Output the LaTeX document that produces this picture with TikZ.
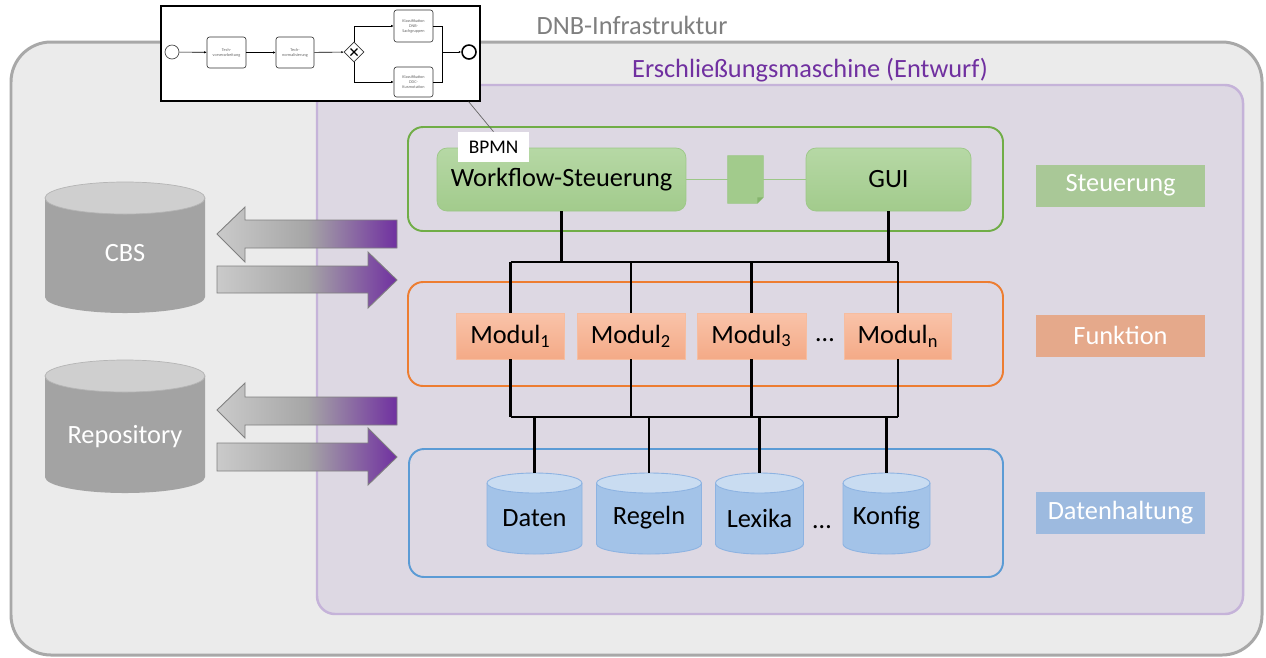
\documentclass[tikz,border=0pt]{standalone}
\usepackage{fontspec}
\setmainfont{Carlito}
\usetikzlibrary{arrows.meta,shapes.geometric}

\definecolor{infrafuell}{HTML}{EBEBEB}
\definecolor{infrarand}{HTML}{A8A8A8}
\definecolor{infratext}{HTML}{7F7F7F}
\definecolor{maschfuell}{HTML}{DDD8E3}
\definecolor{maschrand}{HTML}{C5B3D9}
\definecolor{lila}{HTML}{7030A0}
\definecolor{gruenrahmen}{HTML}{70AD47}
\definecolor{gruenoben}{HTML}{B6D8A5}
\definecolor{gruenunten}{HTML}{A2CB8C}
\definecolor{gruenrand}{HTML}{9CC787}
\definecolor{gruendunkel}{HTML}{86B56E}
\definecolor{orangerahmen}{HTML}{ED7D31}
\definecolor{orangeoben}{HTML}{F9C3A9}
\definecolor{orangeunten}{HTML}{F4AA87}
\definecolor{orangerand}{HTML}{F6BDA0}
\definecolor{blaurahmen}{HTML}{5B9BD5}
\definecolor{blaukoerper}{HTML}{A3C3E8}
\definecolor{blaudeckel}{HTML}{C9DCF1}
\definecolor{blaurand}{HTML}{8DB3E2}
\definecolor{graukoerper}{HTML}{A3A3A3}
\definecolor{graudeckel}{HTML}{CFCFCF}
\definecolor{graurand}{HTML}{B5B5B5}
\definecolor{pfeilhell}{HTML}{CACACA}
\definecolor{pfeilgrau}{HTML}{A6A6A6}
\definecolor{pfeilrand}{HTML}{808080}
\definecolor{ebenegruen}{HTML}{A9C897}
\definecolor{ebeneorange}{HTML}{E5A98B}
\definecolor{ebeneblau}{HTML}{9DBADF}

\newcommand\schriftgross{\fontsize{15}{18}\selectfont}

\tikzset{
  rahmen/.style={rounded corners=0.3cm, line width=1.1pt},
  gruenbox/.style={draw=gruenrand, top color=gruenoben, bottom color=gruenunten, rounded corners=0.2cm, minimum height=1.26cm, inner sep=0, font=\schriftgross},
  modulbox/.style={draw=orangerand, top color=orangeoben, bottom color=orangeunten, minimum height=0.92cm, inner sep=0, font=\schriftgross},
  ebene/.style={minimum width=3.38cm, minimum height=0.84cm, inner sep=0, text=white, font=\schriftgross},
  verbinder/.style={line width=1.2pt, black},
  task/.style={draw=black!80, rounded corners=0.05cm, line width=0.35pt, align=center, inner sep=0, text=black!60, font=\fontsize{2.4}{2.9}\selectfont},
  fluss/.style={line width=0.35pt, -{Latex[length=1.4pt,width=1.3pt]}},
  datenpfeil/.style={draw=pfeilrand, line width=0.5pt, left color=pfeilhell, right color=lila, middle color=pfeilgrau},
}

\begin{document}
\begin{tikzpicture}[x=0.02cm,y=-0.02cm]
\useasboundingbox (0,0) rectangle (1266,657);
\fill[white] (0,0) rectangle (1266,657);

% DNB-Infrastruktur
\draw[draw=infrarand, fill=infrafuell, line width=1.7pt, rounded corners=0.8cm] (11,42) rectangle (1262,655);
\node[text=infratext, font=\schriftgross] (infra) at (632,25) {DNB-Infrastruktur};

% Erschliessungsmaschine
\draw[draw=maschrand, fill=maschfuell, line width=1.4pt, rounded corners=0.36cm] (317,85) rectangle (1243,614);
\node[text=lila, font=\schriftgross] (masch) at (810,70) {Erschließungsmaschine (Entwurf)};

% Ebenen
\draw[rahmen, gruenrahmen] (408,127) rectangle (1003,231);
\draw[rahmen, orangerahmen] (408,282) rectangle (1003,386);
\draw[rahmen, blaurahmen] (409,449) rectangle (1003,577);

\node[ebene, fill=ebenegruen] (steuerung) at (1120.5,185.5) {Steuerung};
\node[ebene, fill=ebeneorange] (funktion) at (1120.5,335.5) {Funktion};
\node[ebene, fill=ebeneblau] (datenhaltung) at (1120.5,512.5) {Datenhaltung};

% Steuerung
\node[gruenbox, minimum width=4.98cm] (wf) at (561.5,179.5) {Workflow-Steuerung};
\node[gruenbox, minimum width=3.3cm] (gui) at (888.5,179.5) {GUI};
\node[minimum width=0.7cm, minimum height=0.94cm, inner sep=0] (dok) at (745.5,179.5) {};
\draw[gruenrand, line width=0.5pt] (wf.east) -- (dok.west);
\draw[gruenrand, line width=0.5pt] (dok.east) -- (gui.west);
\draw[gruenrand, fill=gruenunten] (dok.north west) -- (dok.north east) -- ([yshift=0.12cm]dok.south east) -- ([xshift=-0.12cm]dok.south east) -- (dok.south west) -- cycle;
\fill[gruendunkel] ([yshift=0.12cm]dok.south east) -- ([xshift=-0.12cm,yshift=0.12cm]dok.south east) -- ([xshift=-0.12cm]dok.south east) -- cycle;

% Module
\node[modulbox, minimum width=2.16cm] (m1) at (510.5,336) {Modul\textsubscript{1}};
\node[modulbox, minimum width=2.16cm] (m2) at (631,336) {Modul\textsubscript{2}};
\node[modulbox, minimum width=2.18cm] (m3) at (751.5,336) {Modul\textsubscript{3}};
\node[modulbox, minimum width=2.14cm] (mn) at (898,336) {Modul\textsubscript{n}};
\node[font=\schriftgross] (mdots) at (825,340) {\dots};

% Datenhaltung
\pgfmathsetmacro{\ry}{10}
\foreach \name/\cx/\rx/\txt in {daten/534.5/47.5/Daten, regeln/649/52.5/Regeln, lexika/759.5/44/Lexika, konfig/886.5/43.5/Konfig}{
  \fill[blaukoerper] (\cx-\rx,483) -- (\cx-\rx,544) arc[start angle=180, end angle=0, x radius=\rx, y radius=\ry] -- (\cx+\rx,483) -- cycle;
  \draw[blaurand, fill=blaudeckel, line width=0.5pt] (\cx,483) ellipse[x radius=\rx, y radius=\ry];
  \draw[blaurand, line width=0.5pt] (\cx-\rx,483) -- (\cx-\rx,544) arc[start angle=180, end angle=0, x radius=\rx, y radius=\ry] -- (\cx+\rx,483);
  \coordinate (\name-oben) at (\cx,473);
  \node[font=\schriftgross] (\name) at (\cx,518) {\txt};
}
\node[font=\schriftgross] (ddots) at (822,527) {\dots};

% Verbinder
\coordinate (busoben) at (0,262);
\coordinate (busunten) at (0,417);
\draw[verbinder] (wf.south) -- (wf.south |- busoben);
\draw[verbinder] (gui.south) -- (gui.south |- busoben);
\draw[verbinder] (m1.north |- busoben) -- (mn.north |- busoben);
\draw[verbinder] (m1.south |- busunten) -- (mn.south |- busunten);
\foreach \m in {m1,m2,m3,mn}{
  \draw[verbinder] (\m.north |- busoben) -- (\m.north);
  \draw[verbinder] (\m.south) -- (\m.south |- busunten);
}
\foreach \d in {daten,regeln,lexika,konfig}
  \draw[verbinder] (\d-oben |- busunten) -- (\d-oben);

% CBS und Repository
\pgfmathsetmacro{\gry}{16}
\foreach \name/\yt/\yb/\ty/\txt in {cbs/198/297/253/CBS, repo/376/477/437/Repository}{
  \fill[graukoerper] (45,\yt) -- (45,\yb) arc[start angle=180, end angle=0, x radius=80, y radius=\gry] -- (205,\yt) -- cycle;
  \draw[graurand, fill=graudeckel, line width=0.4pt] (125,\yt) ellipse[x radius=80, y radius=\gry];
  \node[text=white, font=\schriftgross] (\name) at (125,\ty) {\txt};
}

% Datenpfeile
\shadedraw[datenpfeil] (217,234) -- (245,207) -- (245,220) -- (397,220) -- (397,248) -- (245,248) -- (245,262) -- cycle;
\shadedraw[datenpfeil] (217,266) -- (368,266) -- (368,252) -- (397,280) -- (368,308) -- (368,293) -- (217,293) -- cycle;
\shadedraw[datenpfeil] (217,410) -- (245,383) -- (245,397) -- (397,397) -- (397,425) -- (245,425) -- (245,438) -- cycle;
\shadedraw[datenpfeil] (217,443) -- (368,443) -- (368,428) -- (397,457) -- (368,485) -- (368,471) -- (217,471) -- cycle;

% BPMN-Skizze
\node[draw=black, line width=0.8pt, fill=white, minimum width=6.38cm, minimum height=1.9cm, inner sep=0] (bpmnbild) at (320.5,53.5) {};
\node[circle, draw=black!70, line width=0.4pt, minimum size=0.28cm, inner sep=0] (start) at (172,52) {};
\node[task, minimum width=0.78cm, minimum height=0.62cm] (t1) at (226.5,52.5) {Tech-\\vorverarbeitung};
\node[task, minimum width=0.76cm, minimum height=0.62cm] (t2) at (295,52.5) {Tech-\\normalisierung};
\node[diamond, draw=black!80, line width=0.4pt, minimum size=0.4cm, inner sep=0] (gw) at (354,52) {};
\draw[line width=0.7pt] ([shift={(-3.5,-3.5)}]gw.center) -- ([shift={(3.5,3.5)}]gw.center);
\draw[line width=0.7pt] ([shift={(-3.5,3.5)}]gw.center) -- ([shift={(3.5,-3.5)}]gw.center);
\node[task, minimum width=0.78cm, minimum height=0.64cm] (t3) at (413.5,26) {Klassifikation\\DNB-\\Sachgruppen};
\node[task, minimum width=0.78cm, minimum height=0.6cm] (t4) at (413.5,82) {Klassifikation\\DDC-\\Kurznotation};
\node[circle, draw=black, line width=0.9pt, minimum size=0.28cm, inner sep=0] (ende) at (469,52) {};
\coordinate (zusammen) at (442,52);
\draw[fluss] (start) -- (t1);
\draw[fluss] (t1) -- (t2);
\draw[fluss] (t2) -- (gw);
\draw[fluss] (gw.north) |- (t3.west);
\draw[fluss] (gw.south) |- (t4.west);
\draw[line width=0.35pt] (t3.east) -| (zusammen);
\draw[line width=0.35pt] (t4.east) -| (zusammen);
\draw[fluss] (zusammen) -- (ende);

% BPMN-Label
\node[fill=white, minimum width=1.42cm, minimum height=0.6cm, inner sep=0, font=\fontsize{11}{13}\selectfont] (bpmn) at (493.5,147) {BPMN};
\draw[black!60, line width=0.4pt] (bpmn.north) -- ([xshift=-0.24cm]bpmnbild.south east);
\end{tikzpicture}
\end{document}
